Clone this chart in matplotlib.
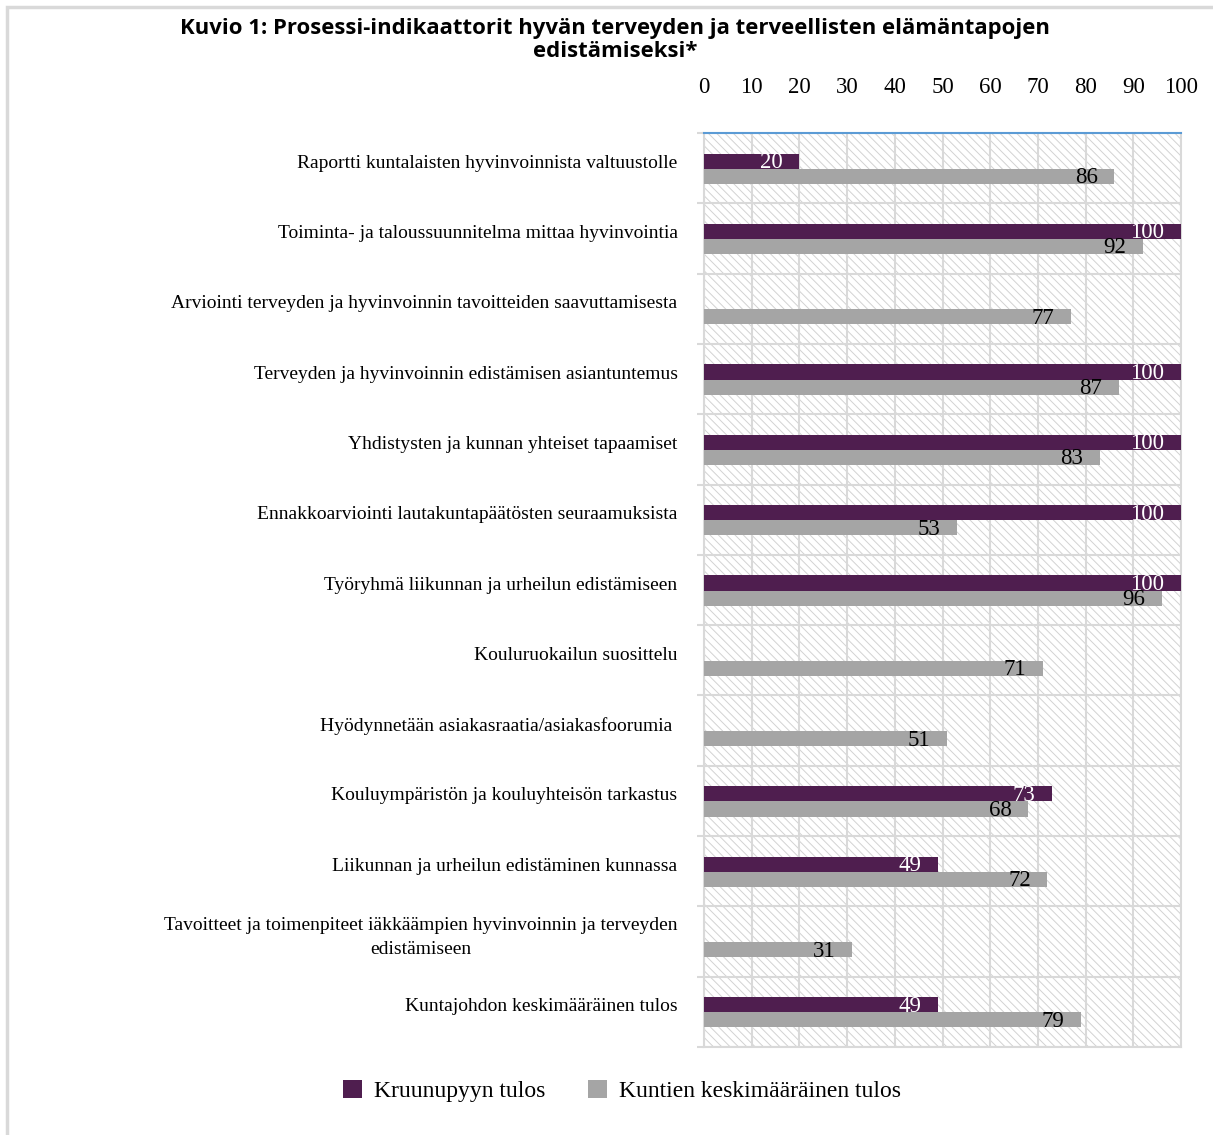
import numpy as np
import matplotlib
matplotlib.use("Agg")
import matplotlib.pyplot as plt
from matplotlib.patches import Rectangle
from matplotlib.transforms import ScaledTranslation

categories = [
    "Raportti kuntalaisten hyvinvoinnista valtuustolle",
    "Toiminta- ja taloussuunnitelma mittaa hyvinvointia",
    "Arviointi terveyden ja hyvinvoinnin tavoitteiden saavuttamisesta",
    "Terveyden ja hyvinvoinnin edistämisen asiantuntemus",
    "Yhdistysten ja kunnan yhteiset tapaamiset",
    "Ennakkoarviointi lautakuntapäätösten seuraamuksista",
    "Työryhmä liikunnan ja urheilun edistämiseen",
    "Kouluruokailun suosittelu",
    "Hyödynnetään asiakasraatia/asiakasfoorumia ",
    "Kouluympäristön ja kouluyhteisön tarkastus",
    "Liikunnan ja urheilun edistäminen kunnassa",
    "Tavoitteet ja toimenpiteet iäkkäämpien hyvinvoinnin ja terveyden\nedistämiseen",
    "Kuntajohdon keskimääräinen tulos",
]
kruunupyy = [20, 100, None, 100, 100, 100, 100, None, None, 73, 49, None, 49]
kunnat = [86, 92, 77, 87, 83, 53, 96, 71, 51, 68, 72, 31, 79]
series_names = ["Kruunupyyn tulos", "Kuntien keskimääräinen tulos"]
xticks = list(range(0, 101, 10))

purple = "#4f1e4f"
gray = "#a5a5a5"
grid_c = "#d9d9d9"
serif = ["Liberation Serif", "DejaVu Serif"]

plt.rcParams["hatch.linewidth"] = 0.7
fig = plt.figure(figsize=(12.13, 11.35), dpi=100)
ax = fig.add_axes([704 / 1213, 1 - 1047 / 1135, 477 / 1213, (1047 - 133) / 1135])

# frame around the chart area
fig.patches.append(Rectangle((7 / 1213, -0.05), 1.1, 1.05 - 7 / 1135,
                             transform=fig.transFigure, fill=False,
                             edgecolor=grid_c, linewidth=2.5))

# hatched plot background
ax.add_patch(Rectangle((0, 0), 1, 1, transform=ax.transAxes, facecolor="white",
                       edgecolor="#d2d2d2", hatch="\\\\\\\\", linewidth=0, zorder=0))

y = np.arange(len(categories))
h = 0.215
kv = np.array([np.nan if v is None else v for v in kruunupyy], dtype=float)
b1 = ax.barh(y - 0.1, np.nan_to_num(kv), height=h, color=purple, zorder=3,
             label=series_names[0])
b2 = ax.barh(y + 0.115, kunnat, height=h, color=gray, zorder=3,
             label=series_names[1])

for yi, v in zip(y, kv):
    if not np.isnan(v):
        ax.annotate(f"{v:.0f}", (v, yi - 0.1), xytext=(-12, -1), textcoords="offset points",
                    ha="right", va="center", color="white", fontsize=16.5,
                    family=serif, zorder=4)
for yi, v in zip(y, kunnat):
    ax.annotate(f"{v}", (v, yi + 0.115), xytext=(-12, -1), textcoords="offset points",
                ha="right", va="center", color="black", fontsize=16.5,
                family=serif, zorder=4)

ax.set_xlim(0, 100)
ax.set_ylim(len(categories) - 0.5, -0.5)
ax.set_xticks(xticks)
ax.xaxis.tick_top()
ax.tick_params(axis="x", length=0, pad=25, labelsize=16.5)
for lab in ax.get_xticklabels():
    lab.set_family(serif)

ax.set_yticks(y)
ax.set_yticklabels(categories, fontsize=14, family=serif, ma="center", linespacing=1.6)
ax.tick_params(axis="y", which="major", length=0, pad=19)
ax.set_yticks(np.arange(-0.5, len(categories), 1), minor=True)
ax.tick_params(axis="y", which="minor", length=5, width=1.5, color=grid_c)
for lab in ax.get_yticklabels():
    up = 0.1 if "\n" in lab.get_text() else 0.07
    lab.set_transform(lab.get_transform() + ScaledTranslation(0, up, fig.dpi_scale_trans))

ax.grid(axis="x", color=grid_c, linewidth=1.5, zorder=1)
ax.grid(axis="y", which="minor", color=grid_c, linewidth=1.5, zorder=1)
ax.set_axisbelow(True)

for s in ["left", "right", "bottom"]:
    ax.spines[s].set_color(grid_c)
    ax.spines[s].set_linewidth(1.5)
ax.spines["top"].set_color("#5b9bd5")
ax.spines["top"].set_linewidth(1.5)

fig.text(615 / 1213, 1 - 40 / 1135,
         "Kuvio 1: Prosessi-indikaattorit hyvän terveyden ja terveellisten elämäntapojen\nedistämiseksi*",
         ha="center", va="center", fontsize=15.9, fontweight="bold",
         family=["Open Sans", "DejaVu Sans"], linespacing=1.15)

fig.legend(handles=[b1, b2], labels=series_names, loc="center",
           bbox_to_anchor=(622 / 1213, 1 - 1091 / 1135), ncol=2, frameon=False,
           prop={"family": serif, "size": 17}, handlelength=0.8, handleheight=0.8,
           handletextpad=0.5, columnspacing=1.8)

fig.savefig("out.png", dpi=100)
